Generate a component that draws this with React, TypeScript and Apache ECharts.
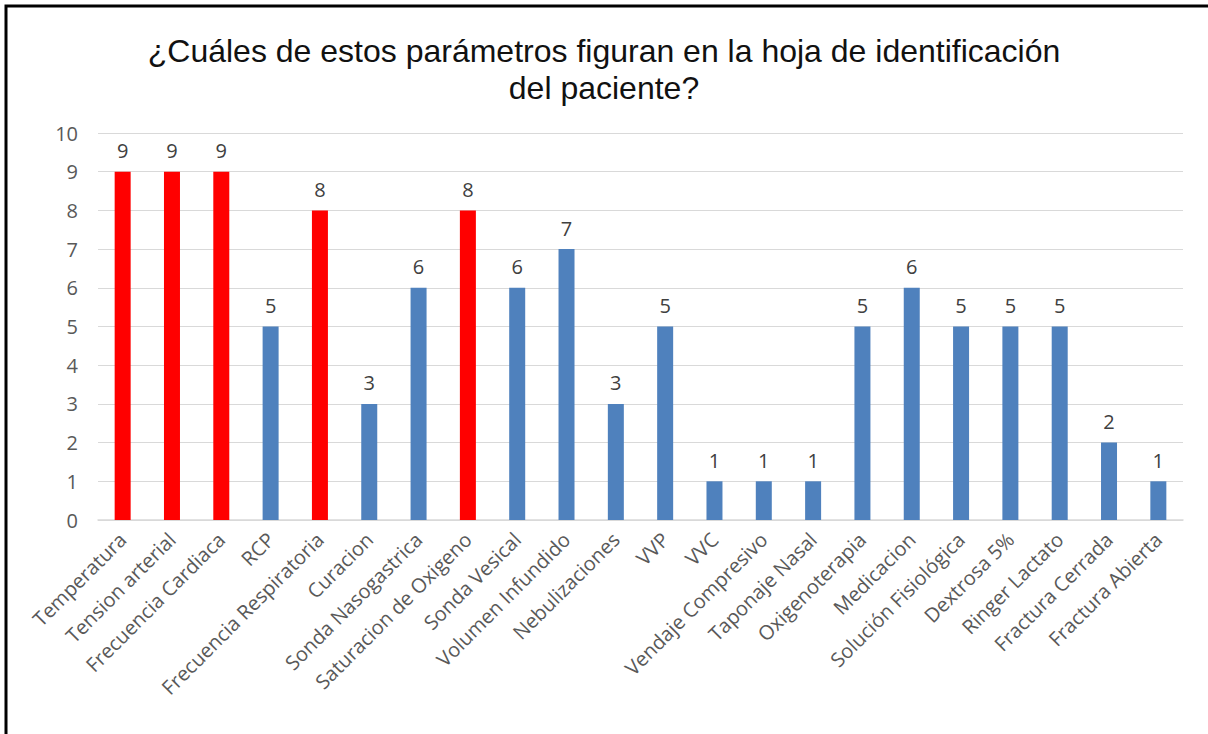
import React, { useEffect, useRef } from "react";
import * as echarts from "echarts";

const categories = [
  "Temperatura",
  "Tension arterial",
  "Frecuencia Cardiaca",
  "RCP",
  "Frecuencia Respiratoria",
  "Curacion",
  "Sonda Nasogastrica",
  "Saturacion de Oxigeno",
  "Sonda Vesical",
  "Volumen Infundido",
  "Nebulizaciones",
  "VVP",
  "VVC",
  "Vendaje Compresivo",
  "Taponaje Nasal",
  "Oxigenoterapia",
  "Medicacion",
  "Solución Fisiológica",
  "Dextrosa 5%",
  "Ringer Lactato",
  "Fractura Cerrada",
  "Fractura Abierta",
];

const values = [9, 9, 9, 5, 8, 3, 6, 8, 6, 7, 3, 5, 1, 1, 1, 5, 6, 5, 5, 5, 2, 1];

const highlighted = [
  true, true, true, false, true, false, false, true, false, false, false,
  false, false, false, false, false, false, false, false, false, false, false,
];

const titleText = "¿Cuáles de estos parámetros figuran en la hoja de identificación\ndel paciente?";

const RED = "#FF0000";
const BLUE = "#4F81BD";
const FONT = "'Open Sans', Lato, sans-serif";

export default function App() {
  const ref = useRef<HTMLDivElement>(null);
  useEffect(() => {
    if (!ref.current) return;
    const chart = echarts.init(ref.current, null, { renderer: "svg" });
    chart.setOption({
      animation: false,
      backgroundColor: "#ffffff",
      title: {
        text: titleText,
        left: "center",
        top: 27,
        textStyle: {
          fontFamily: "Liberation Sans, Arial, sans-serif",
          fontSize: 32,
          fontWeight: "normal",
          color: "#111111",
          lineHeight: 37,
        },
      },
      graphic: [
        {
          type: "polyline",
          shape: { points: [[6, 734], [6, 6], [1208, 6]] },
          style: { stroke: "#000000", lineWidth: 3, fill: "none" },
          silent: true,
        },
      ],
      grid: { left: 98, right: 25, top: 133, bottom: 214, containLabel: false },
      xAxis: {
        type: "category",
        data: categories,
        axisLine: { show: true, lineStyle: { color: "#D9D9D9", width: 1.5 } },
        axisTick: { show: false },
        axisLabel: {
          rotate: 45,
          interval: 0,
          margin: 16,
          fontFamily: FONT,
          fontSize: 20,
          color: "#595959",
        },
      },
      yAxis: {
        type: "value",
        min: 0,
        max: 10,
        interval: 1,
        axisLine: { show: false },
        axisTick: { show: false },
        splitLine: { lineStyle: { color: "#D9D9D9", width: 1 } },
        axisLabel: {
          margin: 20,
          fontFamily: FONT,
          fontSize: 20,
          color: "#595959",
        },
      },
      series: [
        {
          type: "bar",
          barWidth: 16,
          data: values.map((v, i) => ({
            value: v,
            itemStyle: { color: highlighted[i] ? RED : BLUE },
          })),
          label: {
            show: true,
            position: "top",
            distance: 11,
            fontFamily: FONT,
            fontSize: 20,
            color: "#404040",
          },
        },
      ],
    });
    return () => chart.dispose();
  }, []);
  return (
    <div
      ref={ref}
      style={{ position: "fixed", left: 0, top: 0, width: 1208, height: 734 }}
    />
  );
}
